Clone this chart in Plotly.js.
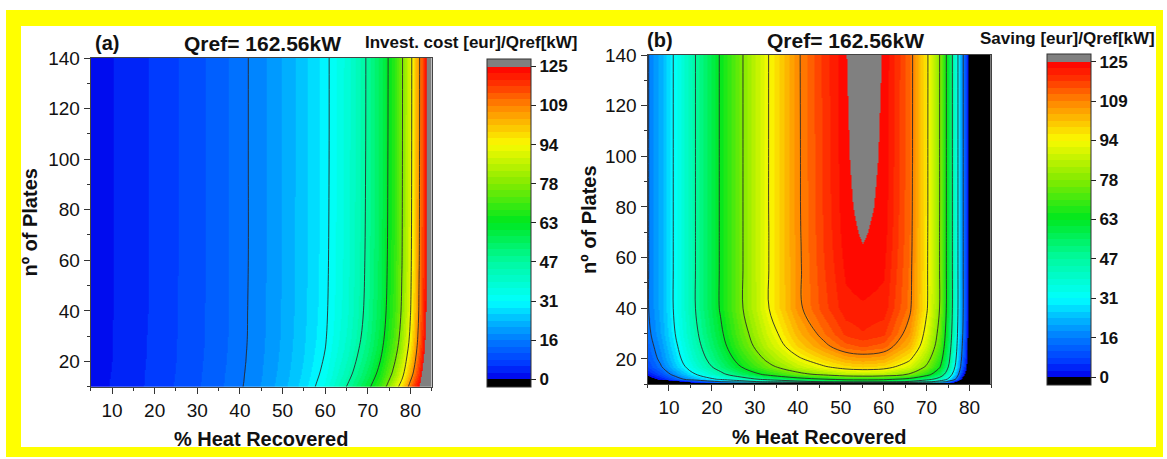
<!DOCTYPE html>
<html>
<head>
<meta charset="utf-8">
<script src="https://cdn.plot.ly/plotly-3.0.1.min.js"></script>
<style>
  body { margin: 0; background: #ffffff; }
  #frame { position: absolute; left: 6px; top: 10px; width: 1157px; height: 447px; background: #ffff00; }
  #inner { position: absolute; left: 21px; top: 26px; width: 1135px; height: 421px; background: #ffffff; }
  #chart { position: absolute; left: 0; top: 0; width: 1167px; height: 459px; }
</style>
</head>
<body>
<div id="frame"></div>
<div id="inner"></div>
<div id="chart"></div>
<script>
// ---- Panel (a): investment cost per kW of reference heat load ----
const heatRecoveredA = [5, 10, 15, 20, 25, 30, 35, 40, 45, 50, 55, 60, 65, 70, 73, 76, 78, 80, 82, 83, 84, 85];
const platesA = [10, 12, 15, 20, 25, 30, 40, 60, 100, 140];
const investCost = [
  [1.2, 2.8, 4.4, 6.2, 8.1, 10.2, 12.5, 15.1, 18.6, 22.5, 27.5, 34.5, 46.9, 60, 71, 87, 98, 113, 125, 135, 145, 155],
  [1.2, 2.8, 4.3, 6.1, 8, 10.1, 12.4, 15, 18.4, 22.3, 27.2, 33.8, 45.5, 58.2, 68.8, 84, 94.9, 109.7, 122.5, 132.2, 142.5, 153.5],
  [1.1, 2.7, 4.3, 6.1, 7.9, 10, 12.3, 14.9, 18.2, 22, 26.7, 32.9, 43.6, 55.9, 65.8, 80, 90.7, 105.3, 119.1, 128.4, 139.1, 151.5],
  [1.1, 2.6, 4.2, 6, 7.8, 9.9, 12.1, 14.7, 18, 21.7, 26.2, 31.9, 41.7, 53.3, 62.8, 76, 86.5, 100.9, 115.7, 124.6, 135.7, 149.5],
  [1.1, 2.6, 4.1, 5.9, 7.8, 9.8, 12, 14.6, 17.8, 21.5, 25.9, 31.2, 40.3, 51.5, 60.5, 73, 83.3, 97.6, 113.1, 121.7, 133.1, 148],
  [1, 2.6, 4.1, 5.9, 7.7, 9.7, 11.9, 14.5, 17.7, 21.3, 25.7, 30.7, 39.4, 50.2, 59, 71, 81.2, 95.4, 111.4, 119.8, 131.4, 147],
  [1, 2.5, 4, 5.8, 7.7, 9.7, 11.9, 14.5, 17.6, 21.2, 25.4, 30.3, 38.4, 49, 57.5, 69, 79.1, 93.2, 109.7, 117.9, 129.7, 146],
  [1, 2.5, 4, 5.8, 7.6, 9.6, 11.8, 14.4, 17.5, 21.1, 25.3, 30, 37.9, 48.3, 56.6, 67.8, 77.8, 91.9, 108.7, 116.8, 128.7, 145.4],
  [1, 2.5, 4, 5.8, 7.6, 9.6, 11.8, 14.4, 17.5, 21, 25.2, 29.8, 37.6, 47.9, 56.2, 67.2, 77.2, 91.2, 108.2, 116.2, 128.2, 145.1],
  [1, 2.5, 4, 5.8, 7.6, 9.6, 11.8, 14.4, 17.5, 21, 25.2, 29.8, 37.5, 47.8, 56, 67, 77, 91, 108, 116, 128, 145]
];

// ---- Panel (b): yearly saving per kW of reference heat load ----
const heatRecoveredB = [5, 8, 11, 16, 22, 27, 33, 40, 46, 51, 55, 60, 66, 70, 73, 75, 77, 78, 79, 80, 82, 85];
const platesB = [10, 10.5, 11, 12, 14, 17, 20, 25, 30, 40, 55, 65, 70, 80, 100, 140];
const saving = [
  [-80, -75, -70, -60, -50, -40, -30, -25, -20, -18, -18, -18, -20, -25, -35, -45, -60, -70, -80, -85, -90, -95],
  [-64, -56, -46, -34, -25, -18, -12, -8, -6, -3, -2, -3, -6, -12, -20, -30, -45, -56, -70, -70, -75, -80],
  [-25.7, -18.5, -9.9, 2.7, 15, 24.3, 33.8, 42.3, 47.4, 51, 52, 51, 44.5, 35.1, 24.9, 11.6, -6.3, -18.5, -31.3, -30, -32, -34],
  [-4.7, 1.9, 9.9, 21.6, 33, 41.5, 50.1, 57.7, 62.1, 65.2, 66, 65.1, 59.6, 51.3, 42.1, 29.9, 13.2, 1.9, -9.7, -16, -22, -26],
  [2, 8.9, 17.6, 30.8, 44.3, 54.7, 65.5, 75.2, 80.9, 84.9, 86, 84.9, 77.6, 67, 55.4, 40.6, 21.2, 8.9, -3.1, -14, -20, -25],
  [7.8, 14.7, 23.5, 37.3, 51.7, 63.2, 75.3, 86.4, 93, 97.7, 99, 97.7, 89.2, 77, 64, 47.7, 27.3, 14.7, 2.8, -12, -19, -24],
  [10.2, 17.1, 26, 40.1, 55.1, 67.2, 80.2, 92.2, 99.4, 104.6, 106, 104.5, 95.2, 81.9, 68.1, 50.9, 29.8, 17.1, 5.2, -11, -18, -23],
  [12.2, 19.1, 28.2, 42.8, 58.7, 71.8, 86, 99.3, 107.5, 113.4, 115, 113.3, 102.8, 87.9, 72.7, 54.2, 32.2, 19.1, 7.2, -9, -17, -22],
  [13.8, 20.8, 29.9, 44.6, 60.8, 74.2, 89, 102.9, 111.6, 117.8, 119.5, 117.7, 106.6, 91, 75.2, 56.3, 33.8, 20.8, 8.8, -8, -16, -21],
  [15, 22, 31.25, 46.4, 63.3, 77.5, 93.1, 107.8, 116.1, 121.5, 122, 121.4, 110.8, 94.8, 78.3, 58.5, 35.3, 22, 10, -7, -15, -20],
  [15, 22, 31.25, 46.4, 63.3, 77.5, 93.2, 108.1, 116.9, 122.9, 124, 122.8, 111.5, 95.1, 78.4, 58.5, 35.3, 22, 10, -7, -15, -20],
  [15, 22, 31.25, 46.4, 63.3, 77.5, 93.2, 108.2, 117.3, 123.6, 124.95, 123.5, 111.9, 95.2, 78.4, 58.5, 35.3, 22, 10, -7, -15, -20],
  [15, 22, 31.25, 46.4, 63.3, 77.5, 93.2, 108.3, 117.4, 123.9, 125.4, 123.8, 112, 95.3, 78.4, 58.5, 35.3, 22, 10, -7, -15, -20],
  [15, 22, 31.25, 46.4, 63.3, 77.5, 93.3, 108.4, 117.6, 124.3, 125.9, 124.2, 112.2, 95.4, 78.5, 58.5, 35.3, 22, 10, -7, -15, -20],
  [15, 22, 31.25, 46.4, 63.3, 77.5, 93.3, 108.4, 117.8, 124.6, 126.4, 124.5, 112.4, 95.4, 78.5, 58.5, 35.3, 22, 10, -7, -15, -20],
  [15, 22, 31.25, 46.4, 63.3, 77.5, 93.3, 108.5, 118, 124.9, 126.8, 124.8, 112.5, 95.5, 78.5, 58.5, 35.3, 22, 10, -7, -15, -20]
];

// Colour-bar ticks (shared by both panels)
const levelTicks = [0, 15.625, 31.25, 46.875, 62.5, 78.125, 93.75, 109.375, 125];
const levelLabels = ['0', '16', '31', '47', '63', '78', '94', '109', '125'];
const panelTitle = 'Qref= 162.56kW';

// ---- Stepped rainbow palette: black below 0, grey above 125 ----
const Z_MIN = -3, Z_MAX = 128, TOP = 125, STEPS = 48;
const rampVals = [0, 6, 16, 24, 31, 47, 63, 78, 94, 109, 118, 125];
const rampRGB = [
  [0, 0, 235], [0, 55, 255], [0, 125, 255], [0, 190, 255], [0, 255, 255], [0, 250, 160],
  [0, 232, 30], [130, 235, 0], [250, 250, 0], [255, 135, 0], [255, 50, 0], [255, 0, 0]
];
function rampColor(v) {
  let i = 0;
  while (i < rampVals.length - 2 && v > rampVals[i + 1]) i++;
  const t = Math.max(0, Math.min(1, (v - rampVals[i]) / (rampVals[i + 1] - rampVals[i])));
  const a = rampRGB[i], b = rampRGB[i + 1];
  return 'rgb(' + a.map((c, k) => Math.round(c + (b[k] - c) * t)).join(',') + ')';
}
function steppedScale() {
  const frac = v => (v - Z_MIN) / (Z_MAX - Z_MIN);
  const eps = 1e-6;
  const scale = [[0, 'rgb(0,0,0)'], [frac(0) - eps, 'rgb(0,0,0)']];
  const step = TOP / STEPS;
  for (let i = 0; i < STEPS; i++) {
    const lo = i * step, hi = lo + step;
    const c = rampColor(lo + step / 2);
    scale.push([frac(lo), c], [frac(hi) - eps, c]);
  }
  scale.push([frac(TOP), 'rgb(128,128,128)'], [1, 'rgb(128,128,128)']);
  return scale;
}
const scale = steppedScale();

const W = 1167, H = 459;
const FONT = 'Liberation Sans, Arial, sans-serif';

function colorbarAt(left, top, bottom) {
  return {
    x: left / W, xanchor: 'left', xpad: 0,
    y: 1 - (top + bottom) / 2 / H, yanchor: 'middle', ypad: 0,
    thickness: 44, thicknessmode: 'pixels',
    len: bottom - top, lenmode: 'pixels',
    outlinewidth: 1, outlinecolor: '#333',
    ticks: 'outside', ticklen: 5, tickwidth: 1, tickcolor: '#222',
    tickmode: 'array', tickvals: levelTicks, ticktext: levelLabels,
    tickfont: { family: FONT, size: 17, color: '#111', weight: 'bold' }
  };
}

function fill(x, y, z, xa, ya, cb) {
  return {
    type: 'heatmap', x: x, y: y, z: z, xaxis: xa, yaxis: ya,
    zsmooth: 'best', colorscale: scale, zmin: Z_MIN, zmax: Z_MAX,
    colorbar: cb, hoverinfo: 'skip'
  };
}
function isolines(x, y, z, xa, ya) {
  return {
    type: 'contour', x: x, y: y, z: z, xaxis: xa, yaxis: ya,
    contours: { coloring: 'none', start: levelTicks[1], end: levelTicks[7], size: levelTicks[1] },
    line: { color: '#2a2a2a', width: 0.9, smoothing: 1 },
    showscale: false, hoverinfo: 'skip'
  };
}

const data = [
  fill(heatRecoveredA, platesA, investCost, 'x', 'y', colorbarAt(486.7, 59, 386.7)),
  isolines(heatRecoveredA, platesA, investCost, 'x', 'y'),
  fill(heatRecoveredB, platesB, saving, 'x2', 'y2', colorbarAt(1046.7, 54, 385)),
  isolines(heatRecoveredB, platesB, saving, 'x2', 'y2')
];

function xAxis(l, r, anchor) {
  return {
    domain: [l / W, r / W], range: [5, 85], anchor: anchor,
    tickmode: 'linear', tick0: 0, dtick: 10,
    ticks: 'outside', ticklen: 6, tickwidth: 1, tickcolor: '#333',
    minor: { ticks: 'outside', dtick: 5, tick0: 0, ticklen: 3, tickcolor: '#333' },
    showgrid: false, zeroline: false,
    showline: true, mirror: true, linecolor: '#444', linewidth: 1,
    tickfont: { family: FONT, size: 19, color: '#111' },
    title: { text: '% Heat Recovered', standoff: 12, font: { family: FONT, size: 20, color: '#111', weight: 'bold' } },
    automargin: false
  };
}
function yAxis(top, bottom, anchor, standoff) {
  return {
    domain: [1 - bottom / H, 1 - top / H], range: [10, 140], anchor: anchor,
    tickmode: 'linear', tick0: 0, dtick: 20,
    ticks: 'outside', ticklen: 6, tickwidth: 1, tickcolor: '#333',
    minor: { ticks: 'outside', dtick: 10, tick0: 0, ticklen: 3, tickcolor: '#333' },
    showgrid: false, zeroline: false,
    showline: true, mirror: true, linecolor: '#444', linewidth: 1,
    tickfont: { family: FONT, size: 19, color: '#111' },
    title: { text: 'nº of Plates', standoff: standoff, font: { family: FONT, size: 20, color: '#111', weight: 'bold' } },
    automargin: false
  };
}

function label(text, x, y, size) {
  return {
    text: text, x: x / W, y: 1 - y / H, xref: 'paper', yref: 'paper',
    xanchor: 'center', yanchor: 'middle', showarrow: false,
    font: { family: FONT, size: size, color: '#111', weight: 'bold' }
  };
}

const layout = {
  width: W, height: H,
  margin: { l: 0, r: 0, t: 0, b: 0 },
  paper_bgcolor: 'rgba(0,0,0,0)', plot_bgcolor: '#ffffff',
  showlegend: false,
  font: { family: FONT, color: '#111' },
  xaxis: xAxis(90.7, 431.7, 'y'),
  yaxis: yAxis(58, 386.7, 'x', 5),
  xaxis2: xAxis(647.5, 991, 'y2'),
  yaxis2: yAxis(55, 384.3, 'x2', 2),
  annotations: [
    label('(a)', 107, 43, 20),
    label(panelTitle, 262, 43, 21),
    label('Invest. cost [eur]/Qref[kW]', 471, 42, 17),
    label('(b)', 660, 40, 20),
    label(panelTitle, 845, 40, 21),
    label('Saving [eur]/Qref[kW]', 1067, 38, 17)
  ]
};

Plotly.newPlot('chart', data, layout, { staticPlot: true, displayModeBar: false });
</script>
</body>
</html>
